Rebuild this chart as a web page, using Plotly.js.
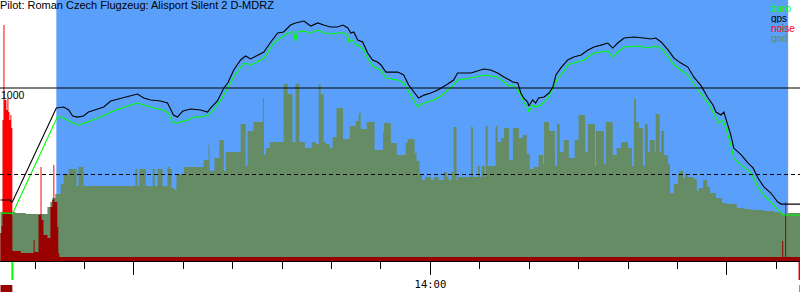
<!DOCTYPE html>
<html>
<head>
<meta charset="utf-8">
<script src="https://cdn.plot.ly/plotly-3.0.1.min.js"></script>
<style>
  html, body { margin: 0; padding: 0; background: #ffffff; }
  #chart { width: 800px; height: 300px; }
</style>
</head>
<body>
<div id="chart"></div>
<script>
// Time in minutes after midnight, altitude in metres
const titleText = "Pilot: Roman Czech Flugzeug: Alisport Silent 2 D-MDRZ";
const seriesNames = ["baro", "gps", "noise", "gnd"];
const hourTicks = [780, 840, 900];
const hourLabels = ["", "14:00", ""];
const refLines = [1000, 500];
const refLabel = "1000";
const flightWindow = [764.3, 912.4];
const takeoffMark = [755.2, 755.6];
const endMark = [914.5, 915.0];
const engineRuns = [[753.0, 755.4], [914.7, 915.0]];

const gpsTime = [753.0, 755.0, 755.2, 755.4, 764.3, 765.8, 766.8, 767.6, 768.6, 769.8, 770.8, 772.2, 773.9, 775.3, 776.7, 778.7, 779.9, 780.7, 782.0, 783.4, 785.4, 786.8, 787.4, 788.0, 788.8, 789.9, 791.5, 793.5, 794.9, 795.5, 796.9, 798.2, 799.0, 800.2, 801.6, 802.6, 803.6, 805.0, 806.3, 807.7, 809.1, 810.3, 811.7, 812.7, 813.8, 814.4, 815.8, 817.2, 818.4, 819.8, 821.2, 822.3, 823.3, 823.9, 824.5, 825.3, 826.3, 827.3, 828.3, 829.3, 830.0, 831.0, 833.4, 834.6, 835.6, 836.6, 837.6, 838.7, 840.1, 841.5, 842.1, 843.5, 844.7, 845.5, 848.2, 849.6, 850.8, 852.2, 853.6, 854.9, 855.7, 856.7, 857.7, 858.3, 858.9, 859.7, 859.9, 860.7, 861.3, 861.9, 863.0, 864.0, 864.8, 865.4, 866.4, 867.8, 869.0, 870.5, 871.9, 873.1, 874.5, 875.9, 876.9, 877.9, 879.2, 881.2, 883.2, 884.6, 885.6, 886.7, 888.1, 889.3, 890.7, 892.1, 893.3, 894.8, 896.2, 897.2, 897.8, 898.8, 899.4, 900.2, 900.8, 901.4, 902.9, 904.3, 905.3, 906.3, 907.5, 908.9, 910.3, 911.0, 915.0];
const gpsAlt = [353, 353, 341, 341, 884, 890, 873, 838, 832, 838, 861, 873, 890, 925, 936, 948, 959, 965, 942, 931, 925, 913, 879, 844, 832, 867, 879, 873, 861, 884, 925, 1000, 1029, 1104, 1162, 1185, 1168, 1191, 1208, 1266, 1318, 1324, 1364, 1376, 1381, 1387, 1358, 1376, 1364, 1353, 1353, 1364, 1347, 1318, 1324, 1277, 1266, 1202, 1162, 1150, 1133, 1092, 1092, 1075, 1017, 977, 942, 959, 971, 988, 1000, 1023, 1046, 1087, 1087, 1098, 1110, 1104, 1087, 1064, 1052, 1035, 1029, 971, 942, 919, 896, 931, 913, 942, 948, 971, 1006, 1075, 1116, 1162, 1179, 1191, 1220, 1237, 1248, 1260, 1231, 1260, 1289, 1295, 1289, 1283, 1289, 1266, 1220, 1173, 1144, 1121, 1064, 1012, 942, 902, 861, 844, 861, 786, 728, 653, 613, 566, 538, 480, 428, 393, 341, 329, 329];

const baroTime = [753.0, 755.0, 755.4, 764.5, 765.2, 766.2, 767.6, 768.8, 770.6, 773.3, 775.3, 777.3, 778.7, 780.7, 782.0, 784.0, 786.0, 787.0, 787.8, 788.8, 790.9, 792.1, 793.5, 795.1, 796.1, 797.6, 799.0, 800.2, 801.6, 802.6, 803.6, 805.0, 806.3, 807.7, 808.3, 809.7, 811.1, 811.7, 812.3, 812.7, 813.1, 814.4, 815.8, 817.2, 818.4, 819.8, 821.2, 822.5, 823.3, 823.5, 824.3, 824.5, 825.9, 826.5, 827.3, 828.5, 830.0, 831.0, 833.4, 834.6, 836.0, 837.4, 838.7, 840.7, 842.1, 843.5, 844.7, 845.5, 848.2, 850.8, 852.2, 853.6, 854.9, 855.7, 856.7, 857.7, 858.3, 858.9, 859.7, 859.9, 860.7, 861.3, 862.4, 863.8, 864.8, 865.8, 866.8, 867.8, 869.0, 871.1, 871.9, 873.1, 875.9, 876.9, 877.9, 879.2, 882.6, 883.2, 884.6, 886.0, 887.1, 888.1, 889.3, 890.7, 892.1, 893.3, 894.8, 896.2, 897.2, 897.8, 898.4, 899.2, 899.8, 900.8, 901.4, 902.4, 903.5, 904.9, 906.3, 907.5, 908.9, 910.3, 911.0, 911.4, 915.0];
const baroAlt = [277, 277, 272, 832, 832, 821, 798, 786, 803, 832, 861, 884, 896, 913, 902, 884, 873, 855, 803, 798, 815, 832, 832, 844, 873, 931, 1000, 1064, 1121, 1144, 1133, 1150, 1173, 1231, 1260, 1289, 1318, 1318, 1329, 1266, 1324, 1329, 1318, 1335, 1318, 1312, 1318, 1318, 1300, 1266, 1277, 1260, 1237, 1220, 1173, 1121, 1104, 1058, 1046, 1029, 959, 890, 913, 931, 954, 988, 1017, 1046, 1058, 1075, 1069, 1064, 1035, 1012, 1017, 988, 959, 919, 884, 861, 902, 890, 902, 942, 1000, 1058, 1087, 1133, 1144, 1162, 1179, 1202, 1214, 1179, 1208, 1237, 1243, 1231, 1237, 1243, 1220, 1179, 1133, 1104, 1075, 1023, 965, 913, 861, 827, 798, 815, 769, 670, 595, 566, 543, 509, 428, 381, 341, 295, 277, 266, 266];

const gndTime = [753.0, 756.0, 758.1, 762.5, 763.1, 763.5, 764.1, 765.2, 765.8, 766.8, 768.4, 768.8, 769.8, 780.3, 780.7, 781.1, 782.4, 783.8, 784.2, 784.8, 785.8, 786.8, 787.2, 787.6, 788.2, 788.6, 790.1, 794.1, 795.1, 795.3, 796.3, 797.3, 798.2, 798.6, 801.6, 802.6, 803.0, 804.2, 806.1, 806.3, 806.7, 807.5, 810.3, 811.1, 812.1, 812.7, 813.5, 814.6, 816.0, 816.8, 817.4, 817.8, 818.4, 818.8, 819.6, 820.2, 821.0, 822.3, 823.7, 824.9, 825.5, 825.9, 827.1, 828.7, 830.4, 830.6, 832.0, 833.2, 835.0, 835.4, 836.8, 837.2, 837.8, 838.3, 838.9, 840.1, 840.7, 841.7, 842.7, 843.3, 843.7, 844.3, 844.7, 845.3, 845.5, 848.2, 848.6, 849.6, 850.0, 850.4, 851.0, 851.2, 851.6, 853.2, 853.6, 854.3, 854.9, 855.9, 856.7, 857.9, 858.7, 859.5, 860.1, 860.9, 861.9, 862.8, 863.0, 864.0, 865.2, 865.6, 866.2, 867.0, 868.0, 869.2, 870.0, 871.3, 871.9, 873.3, 873.5, 875.1, 875.5, 876.9, 877.7, 878.6, 880.0, 880.8, 881.2, 881.6, 882.2, 883.0, 883.4, 884.0, 884.4, 885.4, 885.6, 886.4, 886.7, 887.3, 888.1, 888.5, 889.3, 890.1, 890.3, 891.1, 891.5, 892.1, 893.3, 893.9, 894.3, 895.2, 896.0, 896.6, 897.8, 899.0, 900.0, 902.0, 903.5, 904.9, 907.5, 909.5, 911.0, 912.4, 915.0];
const gndAlt = [283, 277, 272, 312, 341, 364, 387, 445, 503, 532, 434, 543, 434, 532, 434, 532, 434, 532, 434, 532, 434, 543, 532, 422, 410, 503, 543, 584, 670, 520, 595, 699, 520, 630, 792, 549, 751, 803, 942, 613, 653, 688, 1023, 965, 688, 1023, 688, 653, 688, 676, 1023, 965, 688, 676, 653, 717, 884, 705, 780, 809, 855, 763, 803, 642, 746, 798, 682, 613, 682, 705, 624, 578, 503, 468, 486, 468, 486, 468, 514, 486, 468, 514, 775, 468, 486, 775, 486, 549, 486, 549, 486, 780, 549, 780, 688, 711, 769, 584, 769, 711, 728, 618, 532, 543, 613, 561, 803, 751, 549, 792, 630, 699, 595, 699, 844, 630, 792, 549, 751, 561, 803, 613, 653, 688, 653, 549, 936, 803, 769, 549, 792, 630, 699, 630, 850, 630, 751, 613, 561, 393, 445, 503, 520, 480, 503, 486, 474, 405, 422, 468, 428, 393, 364, 335, 329, 306, 301, 295, 289, 283, 272, 277, 277];

const noiseTime = [753.0, 753.2, 753.4, 753.6, 753.8, 754.2, 754.4, 754.6, 754.8, 755.0, 755.2, 755.4, 757.1, 759.7, 759.9, 760.7, 761.1, 761.3, 761.7, 762.5, 763.1, 763.5, 763.7, 763.9, 764.5, 764.7, 764.9, 911.2, 911.4, 911.8, 912.0, 915.0];
const noiseVal = [162, 202, 815, 1364, 931, 873, 942, 861, 815, 844, 769, 58, 46, 121, 52, 266, 543, 237, 150, 133, 312, 353, 555, 341, 197, 46, 23, 116, 23, 341, 23, 23];

// ---- derived: noise portion lying inside the ground band (drawn darker) ----
function stepAt(ts, vs, t) {
  let v = 0;
  for (let i = 0; i < ts.length; i++) { if (ts[i] <= t + 1e-9) v = vs[i]; else break; }
  return v;
}
const unionT = Array.from(new Set(noiseTime.concat(gndTime))).sort((a, b) => a - b);
const noiseLowVal = unionT.map(t => Math.min(stepAt(noiseTime, noiseVal, t), stepAt(gndTime, gndAlt, t)));

const C = { baro: '#00ff00', gps: '#000000', noise: '#ff0000', noiseDark: '#990000', gnd: '#658c64', sky: '#5aa0fa' };

const traces = [
  { x: noiseTime, y: noiseVal, type: 'scatter', mode: 'lines', line: { shape: 'hv', width: 0, color: C.noise }, fill: 'tozeroy', fillcolor: C.noise, name: 'noise', hoverinfo: 'skip' },
  { x: gndTime, y: gndAlt, type: 'scatter', mode: 'lines', line: { shape: 'hv', width: 0, color: C.gnd }, fill: 'tozeroy', fillcolor: C.gnd, name: 'gnd', hoverinfo: 'skip' },
  { x: unionT, y: noiseLowVal, type: 'scatter', mode: 'lines', line: { shape: 'hv', width: 0, color: C.noiseDark }, fill: 'tozeroy', fillcolor: C.noiseDark, name: 'noise (low)', hoverinfo: 'skip' },
  { x: baroTime, y: baroAlt, type: 'scatter', mode: 'lines', line: { color: C.baro, width: 1.1 }, name: 'baro' },
  { x: gpsTime, y: gpsAlt, type: 'scatter', mode: 'lines', line: { color: C.gps, width: 1.1 }, name: 'gps' }
];

const H = 261; // plot area height in px
const py = p => (H - p) / H; // pixel row to paper y

const shapes = [
  { type: 'rect', xref: 'x', yref: 'paper', x0: flightWindow[0], x1: flightWindow[1], y0: 0, y1: 1, fillcolor: C.sky, line: { width: 0 }, layer: 'below' },
  { type: 'line', xref: 'paper', yref: 'y', x0: 0, x1: 1, y0: refLines[0], y1: refLines[0], line: { color: '#000', width: 1 }, layer: 'above' },
  { type: 'line', xref: 'paper', yref: 'y', x0: 0, x1: 1, y0: refLines[1], y1: refLines[1], line: { color: '#000', width: 1, dash: '4px,3px' }, layer: 'above' },
  { type: 'rect', xref: 'x', yref: 'paper', x0: takeoffMark[0], x1: takeoffMark[1], y0: py(262), y1: py(280), fillcolor: C.baro, line: { width: 0 } },
  { type: 'rect', xref: 'x', yref: 'paper', x0: endMark[0], x1: endMark[1], y0: py(262), y1: py(280), fillcolor: '#e00000', line: { width: 0 } }
];
engineRuns.forEach(r => shapes.push({ type: 'rect', xref: 'x', yref: 'paper', x0: r[0], x1: r[1], y0: py(285), y1: py(292), fillcolor: C.noiseDark, line: { width: 0 } }));

const legendColors = [C.baro, C.gps, C.noise, C.gnd];
const annotations = [
  { xref: 'paper', yref: 'y', x: 0, y: refLines[0], xanchor: 'left', yanchor: 'top', text: refLabel, showarrow: false, font: { family: 'Liberation Sans, Arial, sans-serif', size: 10.5, color: '#000' }, borderpad: 0 }
];
seriesNames.forEach((n, i) => annotations.push({
  xref: 'paper', yref: 'paper', x: 770 / 800, y: py(2 + i * 10), xanchor: 'left', yanchor: 'top',
  text: n, showarrow: false, borderpad: 0, height: 10, valign: 'middle',
  font: { family: 'Liberation Sans, Arial, sans-serif', size: 10, color: legendColors[i] }
}));

const minorVals = [];
for (let t = 760; t <= 910; t += 10) if (t % 60 !== 0) minorVals.push(t);

const layout = {
  width: 800, height: 300,
  margin: { l: 0, r: 0, t: 0, b: 39, pad: 0 },
  paper_bgcolor: '#ffffff', plot_bgcolor: '#ffffff',
  showlegend: false,
  title: { text: titleText, xref: 'container', yref: 'container', x: 0, xanchor: 'left', y: 1, yanchor: 'top', pad: { t: 1, l: 0 }, font: { family: 'Liberation Sans, Arial, sans-serif', size: 11, color: '#000' } },
  xaxis: {
    range: [752.9, 914.8], showgrid: false, zeroline: false,
    showline: true, linecolor: '#000', linewidth: 1,
    tickmode: 'array', tickvals: hourTicks, ticktext: hourLabels,
    ticks: 'outside', ticklen: 13, tickwidth: 1, tickcolor: '#000',
    tickfont: { family: 'DejaVu Sans Mono, monospace', size: 10.5, color: '#000' },
    minor: { tickmode: 'array', tickvals: minorVals, ticks: 'outside', ticklen: 7, tickwidth: 1, tickcolor: '#000', showgrid: false }
  },
  yaxis: { range: [0, 1508.7], visible: false, showgrid: false, zeroline: false },
  shapes: shapes,
  annotations: annotations
};

Plotly.newPlot('chart', traces, layout, { staticPlot: true, displayModeBar: false });
</script>
</body>
</html>
